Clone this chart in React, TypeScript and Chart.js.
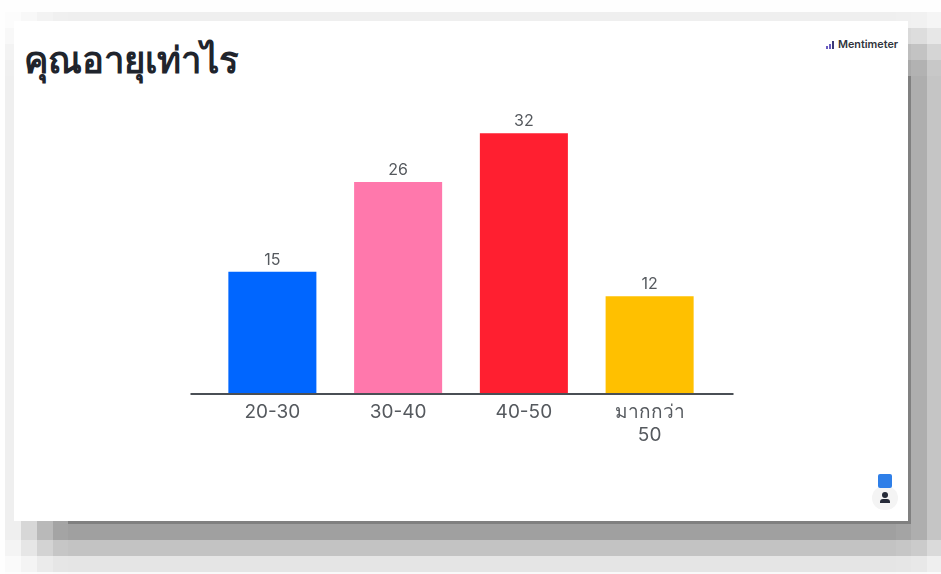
import React, { useEffect, useRef } from "react";
import { Chart, registerables } from "chart.js";

Chart.register(...registerables);

const categories: (string | string[])[] = ["20-30", "30-40", "40-50", ["มากกว่า", "50"]];
const responses = [15, 26, 32, 12];
const barColors = ["#0066ff", "#ff78ac", "#ff1f30", "#ffc000"];
const heading = "คุณอายุเท่าไร";
const FONT = 'Inter, "Noto Sans", "Liberation Sans", sans-serif';

// Stepped falloff of the slide's drop shadow, as [start edge, strength].
const shadowCols: [number, number][] = [[5, 0.16], [21, 0.41], [37, 0.73], [53, 0.95], [68, 1], [896, 0.95], [911, 0.85], [927, 0.6], [941, 0]];
const shadowRows: [number, number][] = [[12, 0.16], [28, 0.41], [44, 0.73], [60, 0.95], [76, 1], [524, 1], [540, 0.63], [556, 0.27], [572, 0.05], [574, 0]];
const SHADOW_PEAK = 0.37;

// Heights of the small bars in the brand mark.
const logoBars = [3, 5, 8];

function ShadowCells() {
  const cells: React.ReactNode[] = [];
  for (let i = 0; i < shadowCols.length - 1; i++) {
    for (let j = 0; j < shadowRows.length - 1; j++) {
      const alpha = shadowCols[i][1] * shadowRows[j][1] * SHADOW_PEAK;
      cells.push(
        <div
          key={`${i}-${j}`}
          style={{
            position: "absolute",
            left: shadowCols[i][0],
            top: shadowRows[j][0],
            width: shadowCols[i + 1][0] - shadowCols[i][0],
            height: shadowRows[j + 1][0] - shadowRows[j][0],
            background: `rgba(0,0,0,${alpha})`,
          }}
        />
      );
    }
  }
  return <>{cells}</>;
}

// Value captions above the bars and the baseline that runs past the outer bars.
const barDecor = {
  id: "barDecor",
  afterDatasetsDraw(chart: Chart) {
    const { ctx, chartArea } = chart;
    ctx.save();
    ctx.strokeStyle = "#4a4f55";
    ctx.lineWidth = 2;
    ctx.beginPath();
    ctx.moveTo(chartArea.left - 19, chartArea.bottom);
    ctx.lineTo(chartArea.right + 21, chartArea.bottom);
    ctx.stroke();
    ctx.fillStyle = "#55595e";
    ctx.font = `16px ${FONT}`;
    ctx.textAlign = "center";
    ctx.textBaseline = "bottom";
    chart.getDatasetMeta(0).data.forEach((bar, i) => {
      ctx.fillText(String(responses[i]), bar.x, bar.y - 4);
    });
    ctx.restore();
  },
};

export default function App() {
  const canvasRef = useRef<HTMLCanvasElement | null>(null);

  useEffect(() => {
    document.body.style.margin = "0";
    const chart = new Chart(canvasRef.current!, {
      type: "bar",
      data: {
        labels: categories,
        datasets: [
          {
            data: responses,
            backgroundColor: barColors,
            barPercentage: 0.7,
            categoryPercentage: 1,
          },
        ],
      },
      options: {
        animation: false,
        responsive: false,
        layout: { padding: { left: 209.5, right: 228.5, top: 68, bottom: 0 } },
        plugins: { legend: { display: false }, tooltip: { enabled: false } },
        scales: {
          x: {
            grid: { display: false },
            border: { display: false },
            afterFit(scale: any) {
              scale.height = 180;
            },
            ticks: {
              color: "#55595e",
              font: { family: FONT, size: 19, lineHeight: 1.2 },
              padding: -1,
              maxRotation: 0,
            },
          },
          y: { display: false, min: 0, max: 40 },
        },
      },
      plugins: [barDecor],
    });
    return () => chart.destroy();
  }, []);

  return (
    <div style={{ position: "relative", width: 941, height: 574, overflow: "hidden", background: "#fefefe", fontFamily: FONT }}>
      <ShadowCells />
      <div style={{ position: "absolute", left: 68, top: 76, width: 843, height: 448, background: "#808080" }} />
      <div style={{ position: "absolute", left: 14, top: 21, width: 894, height: 500, background: "#ffffff" }} />
      <div style={{ position: "absolute", left: 24, top: 31, fontSize: 36.5, fontWeight: 700, color: "#20242c", whiteSpace: "nowrap" }}>{heading}</div>
      <div style={{ position: "absolute", left: 826, top: 40, display: "flex", alignItems: "flex-end", gap: 1, height: 9 }}>
        {logoBars.map((h, i) => (
          <div key={i} style={{ width: 2, height: h, background: i === 2 ? "#3d3a78" : "#6a5cc0" }} />
        ))}
      </div>
      <div style={{ position: "absolute", left: 838, top: 38, fontSize: 10.8, fontWeight: 600, color: "#30343c", whiteSpace: "nowrap", lineHeight: "13px" }}>
        Mentimeter
      </div>
      <div style={{ position: "absolute", left: 872, top: 486, width: 26, height: 24, borderRadius: 13, background: "#f4f4f4" }} />
      <div style={{ position: "absolute", left: 878, top: 474, width: 14, height: 14, borderRadius: 2, background: "#2f7fe8" }} />
      <div style={{ position: "absolute", left: 882, top: 492, width: 6, height: 6, borderRadius: 3, background: "#252a38" }} />
      <div style={{ position: "absolute", left: 880, top: 499, width: 10, height: 4, borderRadius: "3px 3px 0 0", background: "#252a38" }} />
      <canvas ref={canvasRef} width={941} height={574} style={{ position: "absolute", left: 0, top: 0 }} />
    </div>
  );
}
